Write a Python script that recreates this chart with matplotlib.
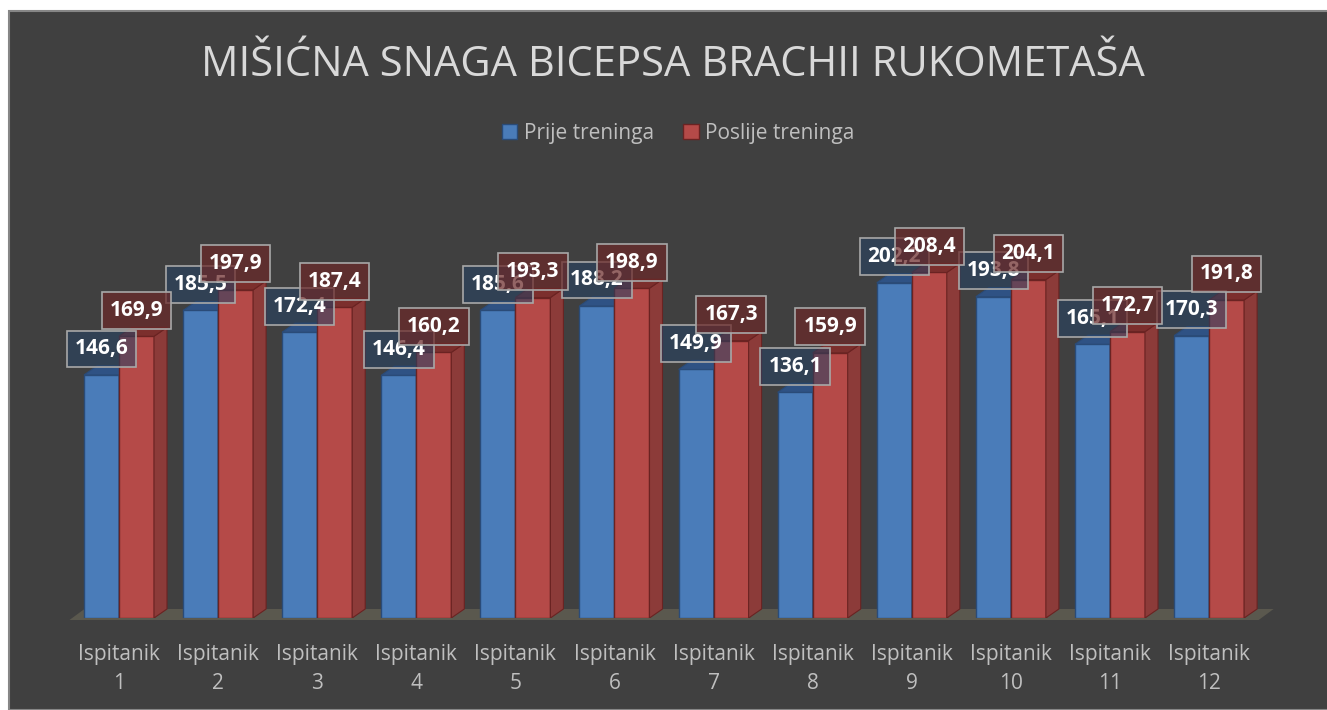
import matplotlib
matplotlib.use("Agg")
import matplotlib.pyplot as plt
from matplotlib.patches import Rectangle, Polygon, Patch

# ---- data ----
categories = [f"Ispitanik\n{i}" for i in range(1, 13)]
series_names = ["Prije treninga", "Poslije treninga"]
prije = [146.6, 185.5, 172.4, 146.4, 185.6, 188.2, 149.9, 136.1, 202.2, 193.8, 165.1, 170.3]
poslije = [169.9, 197.9, 187.4, 160.2, 193.3, 198.9, 167.3, 159.9, 208.4, 204.1, 172.7, 191.8]
title = "MIŠIĆNA SNAGA BICEPSA BRACHII RUKOMETAŠA"

W, H = 1327, 710
plt.rcParams['font.family'] = ['Open Sans', 'DejaVu Sans']
fig = plt.figure(figsize=(W / 100, H / 100), dpi=100)
fig.patch.set_facecolor('white')

# dark chart area
fig.patches.append(Rectangle((9 / W, 0), 1 - 9 / W + 0.01, 1 - 11 / H, transform=fig.transFigure,
                             facecolor='#404040', edgecolor='#868686', linewidth=1.5, zorder=-5))

# axes geometry (pixel based)
ymax = 250.0
px_per_unit = 1.658
y0_px = 618
ax_bottom = (H - y0_px) / H
ax_height = ymax * px_per_unit / H
grp = 99.1
left_px = 119 - grp / 2
ax = fig.add_axes([left_px / W, ax_bottom, 12 * grp / W, ax_height])
ax.set_facecolor('none')
ax.set_xlim(-0.5, 11.5)
ax.set_ylim(0, ymax)
for s in ax.spines.values():
    s.set_visible(False)
ax.set_yticks([])

w = 35 / grp
dx = 13 / grp
dy = 9 / px_per_unit

# floor
fdx = 15 / grp
fdy = 11 / px_per_unit
fy0 = -2 / px_per_unit
floor = Polygon([(-0.5, fy0), (11.5, fy0), (11.5 + fdx, fy0 + fdy), (-0.5 + fdx, fy0 + fdy)],
                closed=True, facecolor='#5a584e', edgecolor='none', clip_on=False, zorder=1)
ax.add_patch(floor)

styles = [
    dict(front='#4a7cb9', top='#2f5284', side='#345a8e', edge='#2a4b78'),
    dict(front='#b54a48', top='#7c2f2d', side='#8c3b39', edge='#6a2322'),
]

z = 2
for i in range(12):
    for k, vals in enumerate([prije, poslije]):
        st = styles[k]
        x0 = i - w if k == 0 else i
        v = vals[i]
        ax.bar(x0, v, width=w, align='edge', color=st['front'], edgecolor=st['edge'],
               linewidth=1.0, zorder=z)
        top = Polygon([(x0, v), (x0 + w, v), (x0 + w + dx, v + dy), (x0 + dx, v + dy)],
                      closed=True, facecolor=st['top'], edgecolor=st['edge'], linewidth=0.8,
                      zorder=z)
        side = Polygon([(x0 + w, 0), (x0 + w + dx, dy), (x0 + w + dx, v + dy), (x0 + w, v)],
                       closed=True, facecolor=st['side'], edgecolor=st['edge'], linewidth=0.8,
                       zorder=z)
        ax.add_patch(side)
        ax.add_patch(top)
        z += 1

# data labels
box_fc = [(0.15, 0.26, 0.40, 0.55), (0.42, 0.16, 0.16, 0.72)]
for k, vals in enumerate([prije, poslije]):
    for i, v in enumerate(vals):
        xc = i - w / 2 if k == 0 else i + w / 2
        ax.annotate(f"{v:.1f}".replace('.', ','), xy=(xc, v), xytext=(0, 26),
                    textcoords='offset pixels', ha='center', va='center',
                    fontsize=15, fontweight='bold', color='white', zorder=100 + k,
                    bbox=dict(boxstyle='square,pad=0.38', facecolor=box_fc[k],
                              edgecolor='#a8a8a8', linewidth=1.2))

ax.set_xticks(range(12))
ax.set_xticklabels(categories, fontsize=15, color='#bfbfbf', linespacing=1.5)
ax.tick_params(axis='x', length=0, pad=19)

fig.text(672.5 / W, 1 - 65 / H, title, ha='center', va='center', fontsize=30,
         color='#d9d9d9')

handles = [Patch(facecolor=styles[0]['front'], edgecolor=styles[0]['edge']),
           Patch(facecolor=styles[1]['front'], edgecolor=styles[1]['edge'])]
fig.legend(handles, series_names, loc='center', bbox_to_anchor=(678 / W, 1 - 133 / H), ncol=2,
           frameon=False, fontsize=15, labelcolor='#bfbfbf', handlelength=0.75,
           handleheight=0.75, handletextpad=0.3, columnspacing=1.4)

fig.savefig('out.png', dpi=100, facecolor='white')
